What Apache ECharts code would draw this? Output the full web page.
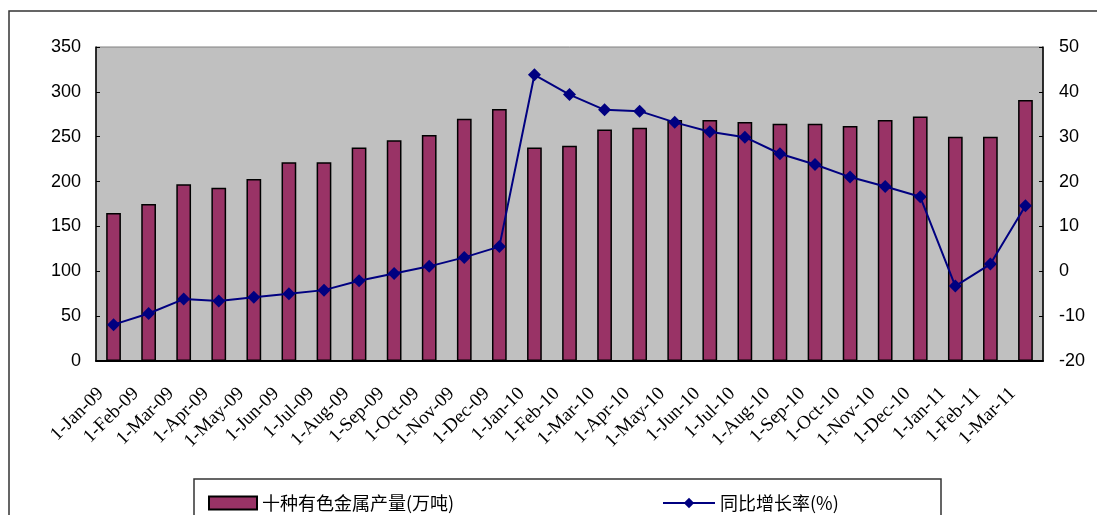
<!DOCTYPE html>
<html>
<head>
<meta charset="utf-8">
<script src="https://cdn.jsdelivr.net/npm/echarts@6/dist/echarts.min.js"></script>
<style>
html,body{margin:0;padding:0;background:#fff;}
#chart{width:1097px;height:515px;}
</style>
</head>
<body>
<div id="chart"></div>
<script>
const categories = ['1-Jan-09','1-Feb-09','1-Mar-09','1-Apr-09','1-May-09','1-Jun-09','1-Jul-09','1-Aug-09','1-Sep-09','1-Oct-09','1-Nov-09','1-Dec-09',
  '1-Jan-10','1-Feb-10','1-Mar-10','1-Apr-10','1-May-10','1-Jun-10','1-Jul-10','1-Aug-10','1-Sep-10','1-Oct-10','1-Nov-10','1-Dec-10',
  '1-Jan-11','1-Feb-11','1-Mar-11'];
const outputValues = [165,175,197,193,203,221.5,221.5,238,246,252,270,281,238,240,258,260,268.5,268.5,266.5,264.5,264.5,262,268.5,272.5,250,250,291];
const growthValues = [-11.9,-9.4,-6.2,-6.6,-5.8,-5.0,-4.2,-2.1,-0.5,1.1,3.1,5.5,43.8,39.4,36.0,35.7,33.2,31.1,29.9,26.2,23.8,21.0,18.9,16.6,-3.3,1.6,14.6];
const barName = '十种有色金属产量(万吨)';
const lineName = '同比增长率(%)';

const chart = echarts.init(document.getElementById('chart'), null, {renderer:'canvas'});
const axisFont = {fontFamily:'Liberation Sans', fontSize:18, color:'#000'};
chart.setOption({
  animation:false,
  backgroundColor:'#fff',
  graphic:[
    {type:'rect', shape:{x:9, y:11, width:1300, height:700}, style:{fill:'none', stroke:'#333', lineWidth:1.5}, z:-10},
    {type:'rect', shape:{x:194, y:479, width:747, height:100}, style:{fill:'#fff', stroke:'#333', lineWidth:1.5}, z:-5}
  ],
  grid:{left:96, right:54, top:47, bottom:154, show:true, backgroundColor:'#C0C0C0', borderColor:'#808080', borderWidth:1},
  legend:[
    {data:[{name:barName, icon:'rect'}], left:203, top:489, itemWidth:48, itemHeight:13, itemGap:10,
     textStyle:{fontFamily:'Noto Sans CJK SC', fontSize:18, color:'#000'}},
    {data:[lineName], left:657, top:489, itemWidth:52, itemHeight:13,
     textStyle:{fontFamily:'Noto Sans CJK SC', fontSize:18, color:'#000'}}
  ],
  xAxis:{
    type:'category', data:categories, boundaryGap:true,
    axisLine:{lineStyle:{color:'#000', width:2}},
    axisTick:{inside:true, length:5, lineStyle:{color:'#000'}},
    axisLabel:{interval:0, rotate:45, fontFamily:'Liberation Serif', fontSize:19, color:'#000', margin:17, padding:[0,18,0,0]}
  },
  yAxis:[
    {type:'value', min:0, max:350, interval:50, position:'left',
     axisLine:{show:true, lineStyle:{color:'#000', width:1.5}},
     axisTick:{show:true, inside:true, length:4, lineStyle:{color:'#000'}},
     axisLabel:Object.assign({margin:15}, axisFont),
     splitLine:{show:false}},
    {type:'value', min:-20, max:50, interval:10, position:'right',
     axisLine:{show:true, lineStyle:{color:'#000', width:1.5}},
     axisTick:{show:true, inside:true, length:4, lineStyle:{color:'#000'}},
     axisLabel:Object.assign({margin:16}, axisFont),
     splitLine:{show:false}}
  ],
  series:[
    {name:barName, type:'bar', data:outputValues, yAxisIndex:0, barWidth:'42%',
     itemStyle:{color:'#993366', borderColor:'#000', borderWidth:1.5}},
    {name:lineName, type:'line', data:growthValues, yAxisIndex:1, symbol:'diamond', symbolSize:13,
     lineStyle:{color:'#000080', width:2}, itemStyle:{color:'#000080'}, z:5}
  ]
});
</script>
</body>
</html>
